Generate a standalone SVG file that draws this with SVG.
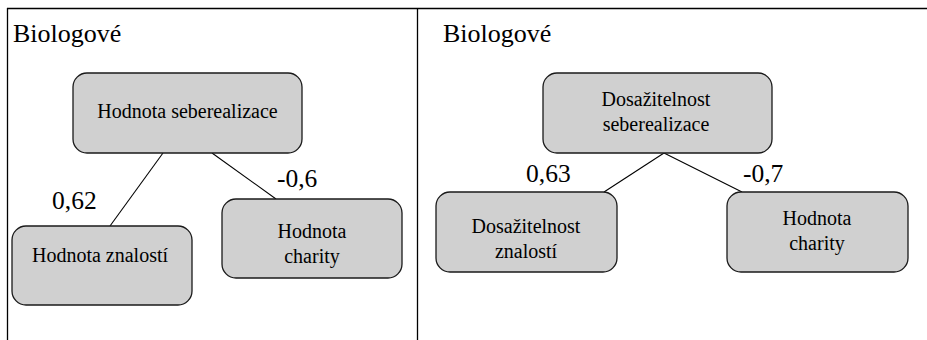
<svg xmlns="http://www.w3.org/2000/svg" width="927" height="340" viewBox="0 0 927 340" font-family="Liberation Serif, Times New Roman, Times, serif">
<style>
.node{fill:#d0d0d0;stroke:#1a1a1a;stroke-width:1.3}
text{font-family:"Liberation Serif","Times New Roman",Times,serif}
.nt{font-size:20px;fill:#000;text-anchor:middle}
.title{font-size:26px;fill:#000}
.lbl{font-size:25.5px;fill:#000}
.frame{stroke:#000;stroke-width:1.3;fill:none}
.conn line{stroke:#000;stroke-width:1.1}
</style>
<rect width="927" height="340" fill="#fff"/>
<g id="frame">
<line class="frame" x1="7" y1="8.5" x2="927" y2="8.5"/>
<line class="frame" x1="7.5" y1="8" x2="7.5" y2="340"/>
<line class="frame" x1="417.5" y1="8" x2="417.5" y2="340"/>
</g>
<text class="title" x="13" y="42">Biologové</text>
<text class="title" x="443" y="42">Biologové</text>
<g id="connectors" class="conn">
<line x1="163" y1="153" x2="110" y2="226"/>
<line x1="212" y1="153" x2="276" y2="199"/>
<line x1="664" y1="153" x2="604" y2="192"/>
<line x1="664" y1="153" x2="742" y2="192"/>
</g>
<g id="labels">
<text class="lbl" x="52" y="209">0,62</text>
<text class="lbl" x="277" y="187">-0,6</text>
<text class="lbl" x="526" y="182">0,63</text>
<text class="lbl" x="743" y="182">-0,7</text>
</g>
<g id="n1">
<rect class="node" x="73" y="73" width="229" height="80" rx="14"/>
<text class="nt" x="187.5" y="118">Hodnota seberealizace</text>
</g>
<g id="n2">
<rect class="node" x="12" y="226" width="180" height="79" rx="14"/>
<text class="nt" x="100" y="262">Hodnota znalostí</text>
</g>
<g id="n3">
<rect class="node" x="222" y="199" width="180" height="79" rx="14"/>
<text class="nt" x="312" y="238">Hodnota</text>
<text class="nt" x="312" y="263">charity</text>
</g>
<g id="n4">
<rect class="node" x="543" y="73" width="229" height="80" rx="14"/>
<text class="nt" x="656" y="106">Dosažitelnost</text>
<text class="nt" x="656" y="131">seberealizace</text>
</g>
<g id="n5">
<rect class="node" x="436" y="192" width="181" height="80" rx="14"/>
<text class="nt" x="526" y="233">Dosažitelnost</text>
<text class="nt" x="526" y="258">znalostí</text>
</g>
<g id="n6">
<rect class="node" x="727" y="192" width="181" height="80" rx="14"/>
<text class="nt" x="817" y="225">Hodnota</text>
<text class="nt" x="817" y="250">charity</text>
</g>
</svg>
